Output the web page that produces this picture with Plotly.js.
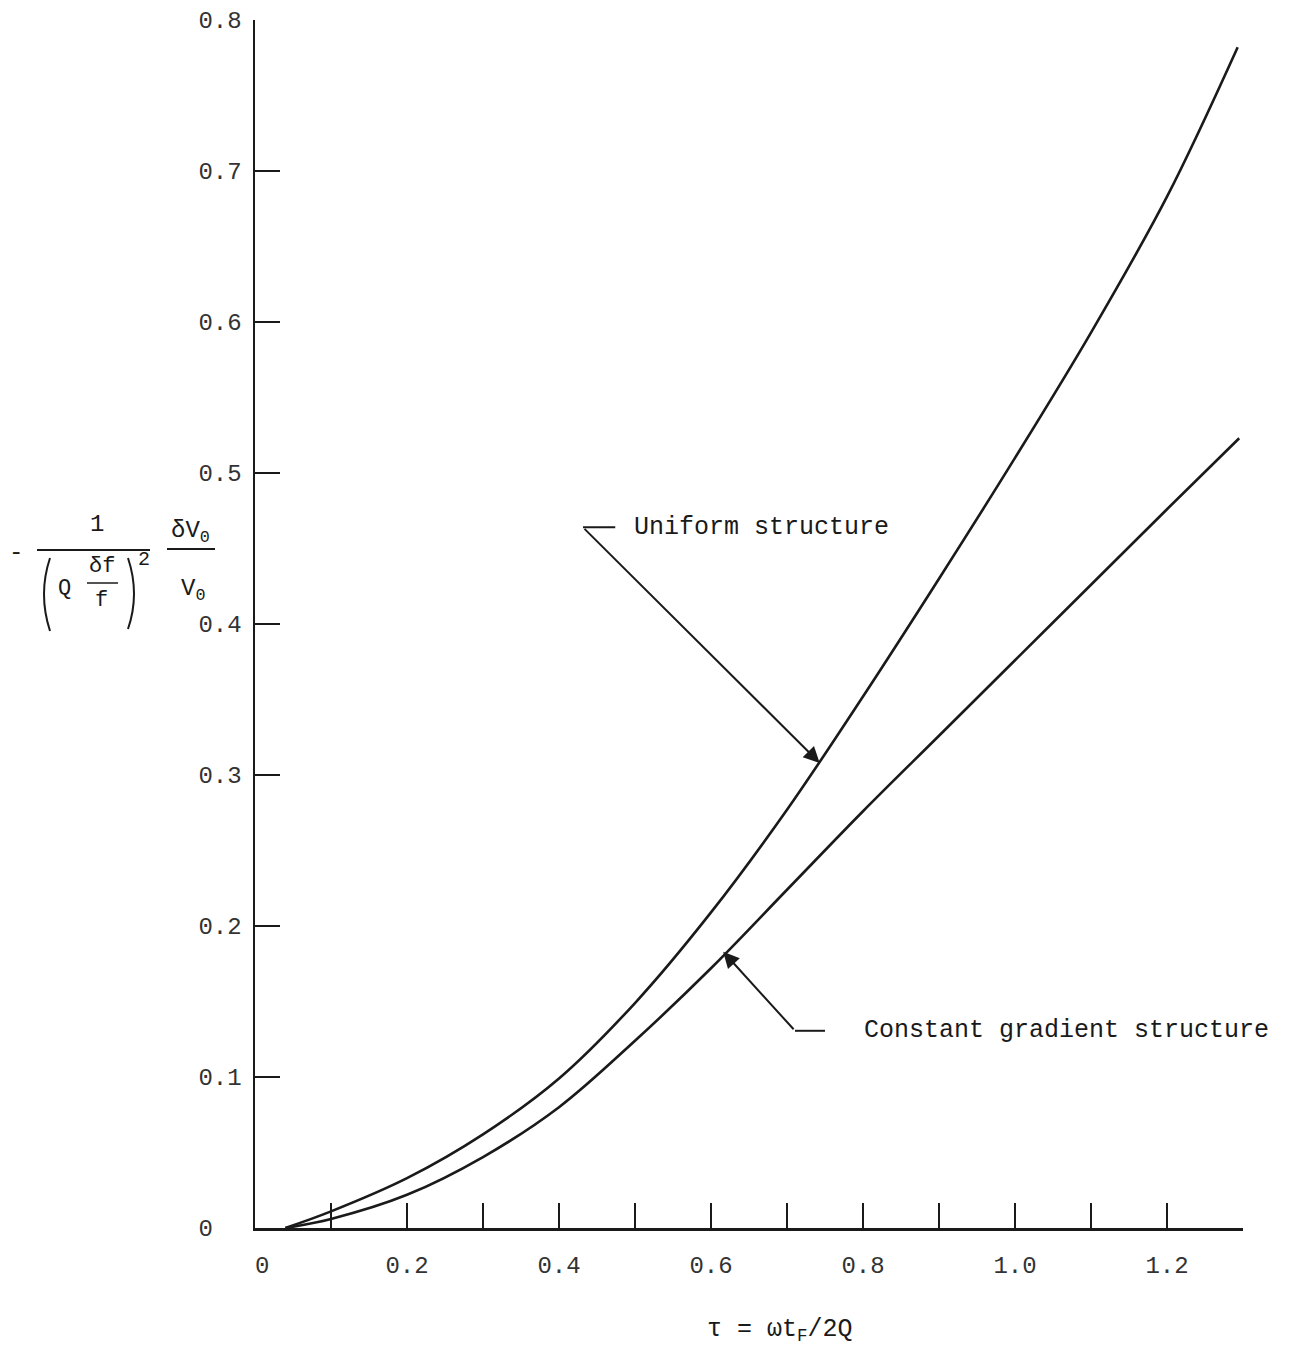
<!DOCTYPE html>
<html>
<head>
<meta charset="utf-8">
<script src="https://cdn.plot.ly/plotly-3.0.1.min.js"></script>
<style>html,body{margin:0;padding:0;background:#fff;}</style>
</head>
<body>
<div id="chart" style="width:1313px;height:1352px;"></div>
<script>
// ---- data ----
const tauUniform = [0.04, 0.1, 0.2, 0.3, 0.4, 0.5, 0.6, 0.7, 0.8, 0.9, 1.0, 1.1, 1.2, 1.293];
const valUniform = [0.0, 0.011, 0.033, 0.062, 0.099, 0.149, 0.209, 0.277, 0.352, 0.430, 0.510, 0.593, 0.683, 0.782];
const tauGradient = [0.04, 0.1, 0.2, 0.3, 0.4, 0.5, 0.6, 0.7, 0.8, 0.9, 1.0, 1.1, 1.2, 1.295];
const valGradient = [0.0, 0.006, 0.022, 0.047, 0.080, 0.124, 0.172, 0.224, 0.276, 0.326, 0.376, 0.426, 0.476, 0.523];

const xTickVals = [0, 0.1, 0.2, 0.3, 0.4, 0.5, 0.6, 0.7, 0.8, 0.9, 1.0, 1.1, 1.2];
const xTickText = ['\u00a00', '', '0.2', '', '0.4', '', '0.6', '', '0.8', '', '1.0', '', '1.2'];
const yTickVals = [0, 0.1, 0.2, 0.3, 0.4, 0.5, 0.6, 0.7, 0.8];
const yTickText = ['0\u00a0\u00a0', '0.1', '0.2', '0.3', '0.4', '0.5', '0.6', '0.7', '0.8'];

const labelUniform = 'Uniform structure';
const labelGradient = 'Constant gradient structure';
const xTitle = 'τ = ωt<sub>F</sub>/2Q';

// ---- layout helpers ----
const FONT = 'Liberation Mono, DejaVu Sans Mono, monospace';
const INK = '#1a1a1a';
const W = 1313, H = 1352, ML = 255, MR = 70, MT = 20, MB = 124;
const PW = W - ML - MR, PH = H - MT - MB;
const px = v => (v - ML) / PW;            // page px -> paper x
const py = v => (H - MB - v) / PH;        // page px -> paper y

const traces = [
  {x: tauUniform, y: valUniform, mode: 'lines', name: labelUniform,
   line: {color: INK, width: 2.6, shape: 'spline', smoothing: 1}, hoverinfo: 'skip'},
  {x: tauGradient, y: valGradient, mode: 'lines', name: labelGradient,
   line: {color: INK, width: 2.6, shape: 'spline', smoothing: 1}, hoverinfo: 'skip'}
];

function txt(x, y, t, size, opts) {
  return Object.assign({xref: 'paper', yref: 'paper', x: px(x), y: py(y), text: t,
    showarrow: false, font: {family: FONT, size: size, color: INK},
    xanchor: 'center', yanchor: 'middle'}, opts || {});
}

const annotations = [
  // curve labels
  {xref: 'x', yref: 'y', x: 0.496, y: 0.464, text: labelUniform, showarrow: false,
   xanchor: 'left', yanchor: 'middle', font: {family: FONT, size: 25, color: INK}},
  {xref: 'x', yref: 'y', x: 0.743, y: 0.308, text: '', showarrow: true,
   axref: 'x', ayref: 'y', ax: 0.4316, ay: 0.464,
   arrowhead: 2, arrowsize: 1.6, arrowwidth: 2, arrowcolor: INK},
  {xref: 'x', yref: 'y', x: 0.799, y: 0.131, text: labelGradient, showarrow: false,
   xanchor: 'left', yanchor: 'middle', font: {family: FONT, size: 25, color: INK}},
  {xref: 'x', yref: 'y', x: 0.616, y: 0.183, text: '', showarrow: true,
   axref: 'x', ayref: 'y', ax: 0.7105, ay: 0.1306,
   arrowhead: 2, arrowsize: 1.6, arrowwidth: 2, arrowcolor: INK},
  // x axis title
  txt(780, 1330, xTitle, 25),
  // y axis title pieces
  txt(16, 552, '-', 24),
  txt(97, 524, '1', 24),
  txt(64, 588, 'Q', 22),
  txt(102, 566, 'δf', 22),
  txt(101, 600, 'f', 22),
  txt(144, 560, '2', 20),
  txt(190, 532, 'δV<sub>0</sub>', 24),
  txt(193, 590, 'V<sub>0</sub>', 24)
];

const lineStyle = {color: INK, width: 2};
const shapes = [
  // leader ticks for labels
  {type: 'line', xref: 'x', yref: 'y', x0: 0.4316, x1: 0.474, y0: 0.464, y1: 0.464, line: lineStyle},
  {type: 'line', xref: 'x', yref: 'y', x0: 0.7105, x1: 0.750, y0: 0.1306, y1: 0.1306, line: lineStyle},
  // fraction bars of y title
  {type: 'line', xref: 'paper', yref: 'paper', x0: px(37), x1: px(150), y0: py(550), y1: py(550), line: lineStyle},
  {type: 'line', xref: 'paper', yref: 'paper', x0: px(87), x1: px(118), y0: py(583), y1: py(583), line: {color: INK, width: 1.5}},
  {type: 'line', xref: 'paper', yref: 'paper', x0: px(167), x1: px(215), y0: py(549), y1: py(549), line: lineStyle},
  // big parentheses
  {type: 'path', xref: 'paper', yref: 'paper',
   path: `M ${px(50)} ${py(558)} Q ${px(38)} ${py(594)} ${px(50)} ${py(631)}`, line: lineStyle},
  {type: 'path', xref: 'paper', yref: 'paper',
   path: `M ${px(128)} ${py(558)} Q ${px(140)} ${py(594)} ${px(128)} ${py(629)}`, line: lineStyle}
];

const layout = {
  width: W, height: H,
  margin: {l: ML, r: MR, t: MT, b: MB, pad: 0},
  paper_bgcolor: '#ffffff', plot_bgcolor: '#ffffff',
  showlegend: false,
  font: {family: FONT, size: 24, color: '#333'},
  xaxis: {
    range: [0, 1.3], showgrid: false, zeroline: false,
    showline: true, linecolor: INK, linewidth: 2.5,
    ticks: 'inside', ticklen: 25, tickwidth: 2, tickcolor: INK,
    tickmode: 'array', tickvals: xTickVals, ticktext: xTickText,
    tickfont: {family: FONT, size: 24, color: '#333'},
    ticklabelstandoff: 14
  },
  yaxis: {
    range: [0, 0.8], showgrid: false, zeroline: false,
    showline: true, linecolor: INK, linewidth: 2.5,
    ticks: 'inside', ticklen: 25, tickwidth: 2, tickcolor: INK,
    tickmode: 'array', tickvals: yTickVals, ticktext: yTickText,
    tickfont: {family: FONT, size: 24, color: '#333'},
    ticklabelstandoff: 6
  },
  annotations: annotations,
  shapes: shapes
};

Plotly.newPlot('chart', traces, layout, {staticPlot: true, displayModeBar: false});
</script>
</body>
</html>
